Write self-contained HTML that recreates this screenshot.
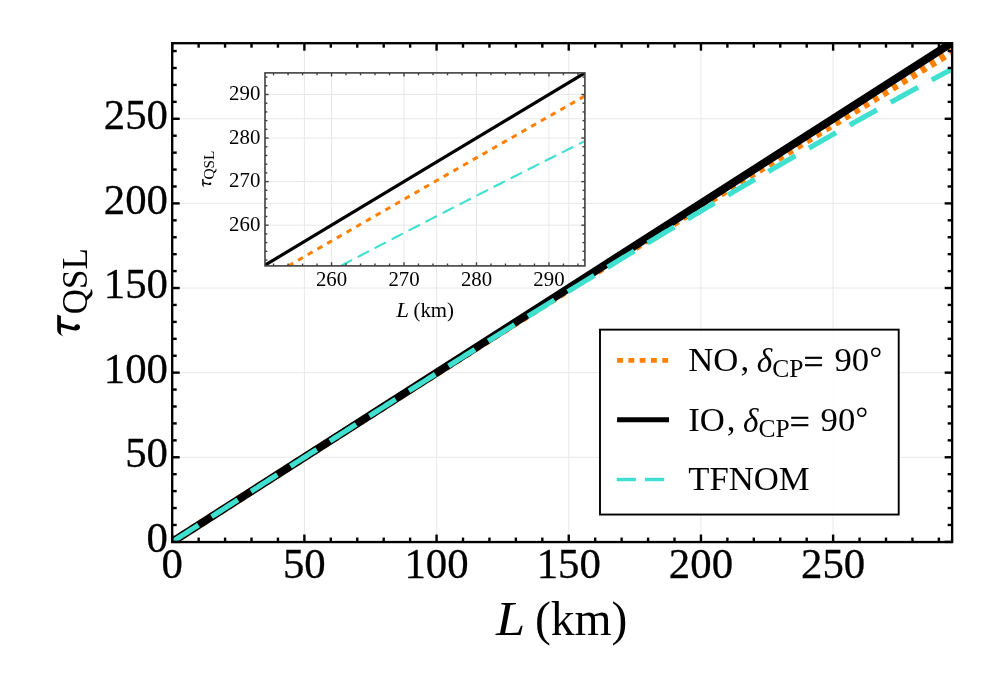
<!DOCTYPE html>
<html><head><meta charset="utf-8"><title>tau QSL</title>
<style>
html,body{margin:0;padding:0;background:#fff;}
body{width:997px;height:691px;overflow:hidden;font-family:"Liberation Serif",serif;}
svg{display:block;will-change:transform;}
</style></head><body>
<svg width="997" height="691" viewBox="0 0 997 691">
<rect width="997" height="691" fill="#ffffff"/>
<defs>
<clipPath id="cm"><rect x="172.20" y="43.20" width="779.95" height="498.85"/></clipPath>
<clipPath id="ci"><rect x="265.00" y="72.90" width="319.90" height="193.00"/></clipPath>
</defs>
<g stroke="#e8e8e8" stroke-width="1" fill="none">
<line x1="304.38" y1="542.05" x2="304.38" y2="43.20"/>
<line x1="172.20" y1="457.27" x2="952.15" y2="457.27"/>
<line x1="436.57" y1="542.05" x2="436.57" y2="43.20"/>
<line x1="172.20" y1="372.65" x2="952.15" y2="372.65"/>
<line x1="568.75" y1="542.05" x2="568.75" y2="43.20"/>
<line x1="172.20" y1="288.02" x2="952.15" y2="288.02"/>
<line x1="700.94" y1="542.05" x2="700.94" y2="43.20"/>
<line x1="172.20" y1="203.40" x2="952.15" y2="203.40"/>
<line x1="833.12" y1="542.05" x2="833.12" y2="43.20"/>
<line x1="172.20" y1="118.77" x2="952.15" y2="118.77"/>
</g>
<g clip-path="url(#cm)" fill="none" stroke-linecap="butt" stroke-linejoin="round">
<path d="M172.20 541.90 L175.45 539.82 L178.70 537.74 L181.95 535.66 L185.20 533.58 L188.45 531.50 L191.70 529.42 L194.95 527.34 L198.20 525.26 L201.45 523.18 L204.70 521.10 L207.95 519.02 L211.19 516.94 L214.44 514.86 L217.69 512.78 L220.94 510.70 L224.19 508.62 L227.44 506.54 L230.69 504.46 L233.94 502.38 L237.19 500.30 L240.44 498.22 L243.69 496.14 L246.94 494.06 L250.19 491.98 L253.44 489.90 L256.69 487.82 L259.94 485.74 L263.19 483.66 L266.44 481.59 L269.69 479.51 L272.94 477.43 L276.19 475.35 L279.44 473.27 L282.68 471.19 L285.93 469.12 L289.18 467.04 L292.43 464.96 L295.68 462.88 L298.93 460.80 L302.18 458.73 L305.43 456.65 L308.68 454.57 L311.93 452.50 L315.18 450.42 L318.43 448.34 L321.68 446.27 L324.93 444.19 L328.18 442.11 L331.43 440.04 L334.68 437.96 L337.93 435.89 L341.18 433.81 L344.43 431.74 L347.68 429.66 L350.93 427.59 L354.17 425.51 L357.42 423.44 L360.67 421.37 L363.92 419.29 L367.17 417.22 L370.42 415.15 L373.67 413.07 L376.92 411.00 L380.17 408.93 L383.42 406.85 L386.67 404.78 L389.92 402.71 L393.17 400.64 L396.42 398.57 L399.67 396.50 L402.92 394.43 L406.17 392.36 L409.42 390.29 L412.67 388.22 L415.92 386.15 L419.17 384.08 L422.42 382.01 L425.66 379.94 L428.91 377.87 L432.16 375.80 L435.41 373.74 L438.66 371.67 L441.91 369.60 L445.16 367.53 L448.41 365.47 L451.66 363.40 L454.91 361.34 L458.16 359.27 L461.41 357.20 L464.66 355.14 L467.91 353.08 L471.16 351.01 L474.41 348.95 L477.66 346.88 L480.91 344.82 L484.16 342.76 L487.41 340.70 L490.66 338.64 L493.91 336.57 L497.15 334.51 L500.40 332.45 L503.65 330.39 L506.90 328.33 L510.15 326.27 L513.40 324.21 L516.65 322.15 L519.90 320.10 L523.15 318.04 L526.40 315.98 L529.65 313.92 L532.90 311.87 L536.15 309.81 L539.40 307.76 L542.65 305.70 L545.90 303.64 L549.15 301.59 L552.40 299.54 L555.65 297.48 L558.90 295.43 L562.15 293.38 L565.40 291.33 L568.64 289.27 L571.89 287.22 L575.14 285.17 L578.39 283.12 L581.64 281.07 L584.89 279.02 L588.14 276.97 L591.39 274.93 L594.64 272.88 L597.89 270.83 L601.14 268.78 L604.39 266.74 L607.64 264.69 L610.89 262.65 L614.14 260.60 L617.39 258.56 L620.64 256.52 L623.89 254.47 L627.14 252.43 L630.39 250.39 L633.64 248.35 L636.89 246.31 L640.13 244.27 L643.38 242.23 L646.63 240.19 L649.88 238.15 L653.13 236.11 L656.38 234.07 L659.63 232.04 L662.88 230.00 L666.13 227.96 L669.38 225.93 L672.63 223.89 L675.88 221.86 L679.13 219.83 L682.38 217.79 L685.63 215.76 L688.88 213.73 L692.13 211.70 L695.38 209.67 L698.63 207.64 L701.88 205.61 L705.13 203.58 L708.38 201.55 L711.62 199.53 L714.87 197.50 L718.12 195.48 L721.37 193.45 L724.62 191.43 L727.87 189.40 L731.12 187.38 L734.37 185.36 L737.62 183.33 L740.87 181.31 L744.12 179.29 L747.37 177.27 L750.62 175.25 L753.87 173.24 L757.12 171.22 L760.37 169.20 L763.62 167.19 L766.87 165.17 L770.12 163.16 L773.37 161.14 L776.62 159.13 L779.87 157.12 L783.12 155.10 L786.36 153.09 L789.61 151.08 L792.86 149.07 L796.11 147.06 L799.36 145.05 L802.61 143.05 L805.86 141.04 L809.11 139.03 L812.36 137.03 L815.61 135.02 L818.86 133.02 L822.11 131.02 L825.36 129.02 L828.61 127.01 L831.86 125.01 L835.11 123.01 L838.36 121.02 L841.61 119.02 L844.86 117.02 L848.11 115.02 L851.36 113.03 L854.61 111.03 L857.85 109.04 L861.10 107.05 L864.35 105.05 L867.60 103.06 L870.85 101.07 L874.10 99.08 L877.35 97.09 L880.60 95.10 L883.85 93.12 L887.10 91.13 L890.35 89.14 L893.60 87.16 L896.85 85.17 L900.10 83.19 L903.35 81.21 L906.60 79.23 L909.85 77.25 L913.10 75.27 L916.35 73.29 L919.60 71.31 L922.85 69.33 L926.10 67.36 L929.34 65.38 L932.59 63.41 L935.84 61.44 L939.09 59.46 L942.34 57.49 L945.59 55.52 L948.84 53.55 L952.09 51.58" stroke="#ff8000" stroke-width="7.9" stroke-dasharray="5.6 5.6"/>
<path d="M172.20 541.90 L562.15 292.26 L952.09 42.61" stroke="#000" stroke-width="8"/>
<path d="M172.20 541.90 L175.45 539.82 L178.70 537.74 L181.95 535.66 L185.20 533.58 L188.45 531.50 L191.70 529.42 L194.95 527.34 L198.20 525.26 L201.45 523.18 L204.70 521.10 L207.95 519.02 L211.19 516.94 L214.44 514.86 L217.69 512.78 L220.94 510.70 L224.19 508.62 L227.44 506.54 L230.69 504.46 L233.94 502.38 L237.19 500.30 L240.44 498.22 L243.69 496.14 L246.94 494.07 L250.19 491.99 L253.44 489.91 L256.69 487.83 L259.94 485.75 L263.19 483.68 L266.44 481.60 L269.69 479.52 L272.94 477.45 L276.19 475.37 L279.44 473.29 L282.68 471.22 L285.93 469.14 L289.18 467.07 L292.43 464.99 L295.68 462.92 L298.93 460.84 L302.18 458.77 L305.43 456.70 L308.68 454.62 L311.93 452.55 L315.18 450.48 L318.43 448.41 L321.68 446.34 L324.93 444.27 L328.18 442.20 L331.43 440.13 L334.68 438.06 L337.93 435.99 L341.18 433.92 L344.43 431.85 L347.68 429.78 L350.93 427.72 L354.17 425.65 L357.42 423.59 L360.67 421.52 L363.92 419.46 L367.17 417.39 L370.42 415.33 L373.67 413.27 L376.92 411.20 L380.17 409.14 L383.42 407.08 L386.67 405.02 L389.92 402.96 L393.17 400.90 L396.42 398.85 L399.67 396.79 L402.92 394.73 L406.17 392.68 L409.42 390.62 L412.67 388.57 L415.92 386.51 L419.17 384.46 L422.42 382.41 L425.66 380.36 L428.91 378.31 L432.16 376.26 L435.41 374.21 L438.66 372.16 L441.91 370.12 L445.16 368.07 L448.41 366.03 L451.66 363.98 L454.91 361.94 L458.16 359.90 L461.41 357.86 L464.66 355.82 L467.91 353.78 L471.16 351.74 L474.41 349.70 L477.66 347.67 L480.91 345.63 L484.16 343.60 L487.41 341.56 L490.66 339.53 L493.91 337.50 L497.15 335.47 L500.40 333.44 L503.65 331.42 L506.90 329.39 L510.15 327.37 L513.40 325.34 L516.65 323.32 L519.90 321.30 L523.15 319.28 L526.40 317.26 L529.65 315.24 L532.90 313.23 L536.15 311.21 L539.40 309.20 L542.65 307.18 L545.90 305.17 L549.15 303.16 L552.40 301.16 L555.65 299.15 L558.90 297.14 L562.15 295.14 L565.40 293.14 L568.64 291.13 L571.89 289.13 L575.14 287.14 L578.39 285.14 L581.64 283.14 L584.89 281.15 L588.14 279.16 L591.39 277.17 L594.64 275.18 L597.89 273.19 L601.14 271.20 L604.39 269.22 L607.64 267.23 L610.89 265.25 L614.14 263.27 L617.39 261.29 L620.64 259.32 L623.89 257.34 L627.14 255.37 L630.39 253.40 L633.64 251.43 L636.89 249.46 L640.13 247.49 L643.38 245.53 L646.63 243.57 L649.88 241.60 L653.13 239.65 L656.38 237.69 L659.63 235.73 L662.88 233.78 L666.13 231.83 L669.38 229.88 L672.63 227.93 L675.88 225.98 L679.13 224.04 L682.38 222.09 L685.63 220.15 L688.88 218.22 L692.13 216.28 L695.38 214.34 L698.63 212.41 L701.88 210.48 L705.13 208.55 L708.38 206.63 L711.62 204.70 L714.87 202.78 L718.12 200.86 L721.37 198.94 L724.62 197.02 L727.87 195.11 L731.12 193.20 L734.37 191.29 L737.62 189.38 L740.87 187.48 L744.12 185.57 L747.37 183.67 L750.62 181.77 L753.87 179.88 L757.12 177.98 L760.37 176.09 L763.62 174.20 L766.87 172.32 L770.12 170.43 L773.37 168.55 L776.62 166.67 L779.87 164.79 L783.12 162.92 L786.36 161.04 L789.61 159.17 L792.86 157.31 L796.11 155.44 L799.36 153.58 L802.61 151.72 L805.86 149.86 L809.11 148.00 L812.36 146.15 L815.61 144.30 L818.86 142.45 L822.11 140.61 L825.36 138.76 L828.61 136.92 L831.86 135.09 L835.11 133.25 L838.36 131.42 L841.61 129.59 L844.86 127.76 L848.11 125.94 L851.36 124.12 L854.61 122.30 L857.85 120.48 L861.10 118.67 L864.35 116.86 L867.60 115.05 L870.85 113.25 L874.10 111.45 L877.35 109.65 L880.60 107.85 L883.85 106.06 L887.10 104.27 L890.35 102.48 L893.60 100.70 L896.85 98.92 L900.10 97.14 L903.35 95.36 L906.60 93.59 L909.85 91.82 L913.10 90.05 L916.35 88.29 L919.60 86.53 L922.85 84.77 L926.10 83.02 L929.34 81.27 L932.59 79.52 L935.84 77.78 L939.09 76.03 L942.34 74.30 L945.59 72.56 L948.84 70.83 L952.09 69.10" stroke="#40e0d0" stroke-width="5.2" stroke-dasharray="31.2 15.6"/>
</g>
<g stroke="#000" stroke-width="2.4" fill="none">
<line x1="172.20" y1="542.05" x2="172.20" y2="534.55"/>
<line x1="172.20" y1="43.20" x2="172.20" y2="50.70"/>
<line x1="172.20" y1="541.90" x2="179.70" y2="541.90"/>
<line x1="952.15" y1="541.90" x2="944.65" y2="541.90"/>
<line x1="198.64" y1="542.05" x2="198.64" y2="537.55"/>
<line x1="198.64" y1="43.20" x2="198.64" y2="47.70"/>
<line x1="172.20" y1="524.98" x2="176.70" y2="524.98"/>
<line x1="952.15" y1="524.98" x2="947.65" y2="524.98"/>
<line x1="225.07" y1="542.05" x2="225.07" y2="537.55"/>
<line x1="225.07" y1="43.20" x2="225.07" y2="47.70"/>
<line x1="172.20" y1="508.05" x2="176.70" y2="508.05"/>
<line x1="952.15" y1="508.05" x2="947.65" y2="508.05"/>
<line x1="251.51" y1="542.05" x2="251.51" y2="537.55"/>
<line x1="251.51" y1="43.20" x2="251.51" y2="47.70"/>
<line x1="172.20" y1="491.12" x2="176.70" y2="491.12"/>
<line x1="952.15" y1="491.12" x2="947.65" y2="491.12"/>
<line x1="277.95" y1="542.05" x2="277.95" y2="537.55"/>
<line x1="277.95" y1="43.20" x2="277.95" y2="47.70"/>
<line x1="172.20" y1="474.20" x2="176.70" y2="474.20"/>
<line x1="952.15" y1="474.20" x2="947.65" y2="474.20"/>
<line x1="304.38" y1="542.05" x2="304.38" y2="534.55"/>
<line x1="304.38" y1="43.20" x2="304.38" y2="50.70"/>
<line x1="172.20" y1="457.27" x2="179.70" y2="457.27"/>
<line x1="952.15" y1="457.27" x2="944.65" y2="457.27"/>
<line x1="330.82" y1="542.05" x2="330.82" y2="537.55"/>
<line x1="330.82" y1="43.20" x2="330.82" y2="47.70"/>
<line x1="172.20" y1="440.35" x2="176.70" y2="440.35"/>
<line x1="952.15" y1="440.35" x2="947.65" y2="440.35"/>
<line x1="357.26" y1="542.05" x2="357.26" y2="537.55"/>
<line x1="357.26" y1="43.20" x2="357.26" y2="47.70"/>
<line x1="172.20" y1="423.42" x2="176.70" y2="423.42"/>
<line x1="952.15" y1="423.42" x2="947.65" y2="423.42"/>
<line x1="383.70" y1="542.05" x2="383.70" y2="537.55"/>
<line x1="383.70" y1="43.20" x2="383.70" y2="47.70"/>
<line x1="172.20" y1="406.50" x2="176.70" y2="406.50"/>
<line x1="952.15" y1="406.50" x2="947.65" y2="406.50"/>
<line x1="410.13" y1="542.05" x2="410.13" y2="537.55"/>
<line x1="410.13" y1="43.20" x2="410.13" y2="47.70"/>
<line x1="172.20" y1="389.57" x2="176.70" y2="389.57"/>
<line x1="952.15" y1="389.57" x2="947.65" y2="389.57"/>
<line x1="436.57" y1="542.05" x2="436.57" y2="534.55"/>
<line x1="436.57" y1="43.20" x2="436.57" y2="50.70"/>
<line x1="172.20" y1="372.65" x2="179.70" y2="372.65"/>
<line x1="952.15" y1="372.65" x2="944.65" y2="372.65"/>
<line x1="463.01" y1="542.05" x2="463.01" y2="537.55"/>
<line x1="463.01" y1="43.20" x2="463.01" y2="47.70"/>
<line x1="172.20" y1="355.73" x2="176.70" y2="355.73"/>
<line x1="952.15" y1="355.73" x2="947.65" y2="355.73"/>
<line x1="489.44" y1="542.05" x2="489.44" y2="537.55"/>
<line x1="489.44" y1="43.20" x2="489.44" y2="47.70"/>
<line x1="172.20" y1="338.80" x2="176.70" y2="338.80"/>
<line x1="952.15" y1="338.80" x2="947.65" y2="338.80"/>
<line x1="515.88" y1="542.05" x2="515.88" y2="537.55"/>
<line x1="515.88" y1="43.20" x2="515.88" y2="47.70"/>
<line x1="172.20" y1="321.88" x2="176.70" y2="321.88"/>
<line x1="952.15" y1="321.88" x2="947.65" y2="321.88"/>
<line x1="542.32" y1="542.05" x2="542.32" y2="537.55"/>
<line x1="542.32" y1="43.20" x2="542.32" y2="47.70"/>
<line x1="172.20" y1="304.95" x2="176.70" y2="304.95"/>
<line x1="952.15" y1="304.95" x2="947.65" y2="304.95"/>
<line x1="568.75" y1="542.05" x2="568.75" y2="534.55"/>
<line x1="568.75" y1="43.20" x2="568.75" y2="50.70"/>
<line x1="172.20" y1="288.02" x2="179.70" y2="288.02"/>
<line x1="952.15" y1="288.02" x2="944.65" y2="288.02"/>
<line x1="595.19" y1="542.05" x2="595.19" y2="537.55"/>
<line x1="595.19" y1="43.20" x2="595.19" y2="47.70"/>
<line x1="172.20" y1="271.10" x2="176.70" y2="271.10"/>
<line x1="952.15" y1="271.10" x2="947.65" y2="271.10"/>
<line x1="621.63" y1="542.05" x2="621.63" y2="537.55"/>
<line x1="621.63" y1="43.20" x2="621.63" y2="47.70"/>
<line x1="172.20" y1="254.18" x2="176.70" y2="254.18"/>
<line x1="952.15" y1="254.18" x2="947.65" y2="254.18"/>
<line x1="648.07" y1="542.05" x2="648.07" y2="537.55"/>
<line x1="648.07" y1="43.20" x2="648.07" y2="47.70"/>
<line x1="172.20" y1="237.25" x2="176.70" y2="237.25"/>
<line x1="952.15" y1="237.25" x2="947.65" y2="237.25"/>
<line x1="674.50" y1="542.05" x2="674.50" y2="537.55"/>
<line x1="674.50" y1="43.20" x2="674.50" y2="47.70"/>
<line x1="172.20" y1="220.32" x2="176.70" y2="220.32"/>
<line x1="952.15" y1="220.32" x2="947.65" y2="220.32"/>
<line x1="700.94" y1="542.05" x2="700.94" y2="534.55"/>
<line x1="700.94" y1="43.20" x2="700.94" y2="50.70"/>
<line x1="172.20" y1="203.40" x2="179.70" y2="203.40"/>
<line x1="952.15" y1="203.40" x2="944.65" y2="203.40"/>
<line x1="727.38" y1="542.05" x2="727.38" y2="537.55"/>
<line x1="727.38" y1="43.20" x2="727.38" y2="47.70"/>
<line x1="172.20" y1="186.48" x2="176.70" y2="186.48"/>
<line x1="952.15" y1="186.48" x2="947.65" y2="186.48"/>
<line x1="753.81" y1="542.05" x2="753.81" y2="537.55"/>
<line x1="753.81" y1="43.20" x2="753.81" y2="47.70"/>
<line x1="172.20" y1="169.55" x2="176.70" y2="169.55"/>
<line x1="952.15" y1="169.55" x2="947.65" y2="169.55"/>
<line x1="780.25" y1="542.05" x2="780.25" y2="537.55"/>
<line x1="780.25" y1="43.20" x2="780.25" y2="47.70"/>
<line x1="172.20" y1="152.62" x2="176.70" y2="152.62"/>
<line x1="952.15" y1="152.62" x2="947.65" y2="152.62"/>
<line x1="806.69" y1="542.05" x2="806.69" y2="537.55"/>
<line x1="806.69" y1="43.20" x2="806.69" y2="47.70"/>
<line x1="172.20" y1="135.70" x2="176.70" y2="135.70"/>
<line x1="952.15" y1="135.70" x2="947.65" y2="135.70"/>
<line x1="833.12" y1="542.05" x2="833.12" y2="534.55"/>
<line x1="833.12" y1="43.20" x2="833.12" y2="50.70"/>
<line x1="172.20" y1="118.77" x2="179.70" y2="118.77"/>
<line x1="952.15" y1="118.77" x2="944.65" y2="118.77"/>
<line x1="859.56" y1="542.05" x2="859.56" y2="537.55"/>
<line x1="859.56" y1="43.20" x2="859.56" y2="47.70"/>
<line x1="172.20" y1="101.85" x2="176.70" y2="101.85"/>
<line x1="952.15" y1="101.85" x2="947.65" y2="101.85"/>
<line x1="886.00" y1="542.05" x2="886.00" y2="537.55"/>
<line x1="886.00" y1="43.20" x2="886.00" y2="47.70"/>
<line x1="172.20" y1="84.93" x2="176.70" y2="84.93"/>
<line x1="952.15" y1="84.93" x2="947.65" y2="84.93"/>
<line x1="912.44" y1="542.05" x2="912.44" y2="537.55"/>
<line x1="912.44" y1="43.20" x2="912.44" y2="47.70"/>
<line x1="172.20" y1="68.00" x2="176.70" y2="68.00"/>
<line x1="952.15" y1="68.00" x2="947.65" y2="68.00"/>
<line x1="938.87" y1="542.05" x2="938.87" y2="537.55"/>
<line x1="938.87" y1="43.20" x2="938.87" y2="47.70"/>
<line x1="172.20" y1="51.07" x2="176.70" y2="51.07"/>
<line x1="952.15" y1="51.07" x2="947.65" y2="51.07"/>
</g>
<rect x="172.20" y="43.20" width="779.95" height="498.85" fill="none" stroke="#000" stroke-width="2.35"/>
<g font-family="'Liberation Serif', serif" font-size="42.8" fill="#000" stroke="#000" stroke-width="0.3">
<text x="172.20" y="577.7" text-anchor="middle">0</text>
<text x="168" y="552.10" text-anchor="end">0</text>
<text x="304.38" y="577.7" text-anchor="middle">50</text>
<text x="168" y="467.47" text-anchor="end">50</text>
<text x="436.57" y="577.7" text-anchor="middle">100</text>
<text x="168" y="382.85" text-anchor="end">100</text>
<text x="568.75" y="577.7" text-anchor="middle">150</text>
<text x="168" y="298.22" text-anchor="end">150</text>
<text x="700.94" y="577.7" text-anchor="middle">200</text>
<text x="168" y="213.60" text-anchor="end">200</text>
<text x="833.12" y="577.7" text-anchor="middle">250</text>
<text x="168" y="128.97" text-anchor="end">250</text>
</g>
<text transform="translate(496.0,635.2) scale(1.1,1)" font-family="'Liberation Serif', serif" fill="#000" font-size="47.6" font-style="italic">L</text>
<text x="534.9" y="635.2" font-family="'Liberation Serif', serif" fill="#000" font-size="47.6">(km)</text>
<path transform="translate(79.80,337.00) rotate(-90) scale(1.0000)" d="M22.4 -22.6 L7 -22.6 Q2.6 -22.4 0.5 -15.9 Q2.6 -19.2 5.6 -18.9 L9.8 -18.9 L7.0 -7.8 Q6.0 -3.4 7.3 -1.3 A2.9 2.9 0 1 0 10.3 -5.5 L10.2 -6.8 L13.4 -18.9 L21 -18.9 Z" fill="#000"/>
<text transform="translate(87,314.2) rotate(-90)" x="0" y="0" font-family="'Liberation Serif', serif" font-size="35" fill="#000">QSL</text>
<g stroke="#e8e8e8" stroke-width="1" fill="none">
<line x1="331.54" y1="265.90" x2="331.54" y2="72.90"/>
<line x1="265.00" y1="225.18" x2="584.90" y2="225.18"/>
<line x1="404.01" y1="265.90" x2="404.01" y2="72.90"/>
<line x1="265.00" y1="181.62" x2="584.90" y2="181.62"/>
<line x1="476.48" y1="265.90" x2="476.48" y2="72.90"/>
<line x1="265.00" y1="138.06" x2="584.90" y2="138.06"/>
<line x1="548.95" y1="265.90" x2="548.95" y2="72.90"/>
<line x1="265.00" y1="94.50" x2="584.90" y2="94.50"/>
</g>
<g clip-path="url(#ci)" fill="none" stroke-linecap="butt">
<path d="M288.32 265.90 L289.56 265.19 L290.80 264.47 L292.03 263.76 L293.27 263.05 L294.51 262.33 L295.74 261.62 L296.98 260.90 L298.22 260.19 L299.45 259.48 L300.69 258.76 L301.93 258.05 L303.17 257.34 L304.40 256.62 L305.64 255.91 L306.88 255.20 L308.11 254.48 L309.35 253.77 L310.59 253.06 L311.82 252.35 L313.06 251.63 L314.30 250.92 L315.53 250.21 L316.77 249.49 L318.01 248.78 L319.25 248.07 L320.48 247.36 L321.72 246.64 L322.96 245.93 L324.19 245.22 L325.43 244.50 L326.67 243.79 L327.90 243.08 L329.14 242.37 L330.38 241.66 L331.61 240.94 L332.85 240.23 L334.09 239.52 L335.33 238.81 L336.56 238.09 L337.80 237.38 L339.04 236.67 L340.27 235.96 L341.51 235.25 L342.75 234.53 L343.98 233.82 L345.22 233.11 L346.46 232.40 L347.70 231.69 L348.93 230.97 L350.17 230.26 L351.41 229.55 L352.64 228.84 L353.88 228.13 L355.12 227.42 L356.35 226.70 L357.59 225.99 L358.83 225.28 L360.06 224.57 L361.30 223.86 L362.54 223.15 L363.78 222.44 L365.01 221.72 L366.25 221.01 L367.49 220.30 L368.72 219.59 L369.96 218.88 L371.20 218.17 L372.43 217.46 L373.67 216.75 L374.91 216.04 L376.14 215.32 L377.38 214.61 L378.62 213.90 L379.86 213.19 L381.09 212.48 L382.33 211.77 L383.57 211.06 L384.80 210.35 L386.04 209.64 L387.28 208.93 L388.51 208.22 L389.75 207.51 L390.99 206.80 L392.22 206.09 L393.46 205.38 L394.70 204.67 L395.94 203.96 L397.17 203.25 L398.41 202.54 L399.65 201.83 L400.88 201.12 L402.12 200.41 L403.36 199.70 L404.59 198.99 L405.83 198.28 L407.07 197.57 L408.30 196.86 L409.54 196.15 L410.78 195.44 L412.02 194.73 L413.25 194.02 L414.49 193.31 L415.73 192.60 L416.96 191.89 L418.20 191.18 L419.44 190.47 L420.67 189.76 L421.91 189.05 L423.15 188.34 L424.38 187.63 L425.62 186.92 L426.86 186.21 L428.10 185.51 L429.33 184.80 L430.57 184.09 L431.81 183.38 L433.04 182.67 L434.28 181.96 L435.52 181.25 L436.75 180.54 L437.99 179.83 L439.23 179.13 L440.46 178.42 L441.70 177.71 L442.94 177.00 L444.18 176.29 L445.41 175.58 L446.65 174.87 L447.89 174.17 L449.12 173.46 L450.36 172.75 L451.60 172.04 L452.83 171.33 L454.07 170.62 L455.31 169.92 L456.54 169.21 L457.78 168.50 L459.02 167.79 L460.26 167.08 L461.49 166.38 L462.73 165.67 L463.97 164.96 L465.20 164.25 L466.44 163.54 L467.68 162.84 L468.91 162.13 L470.15 161.42 L471.39 160.71 L472.62 160.01 L473.86 159.30 L475.10 158.59 L476.34 157.88 L477.57 157.18 L478.81 156.47 L480.05 155.76 L481.28 155.05 L482.52 154.35 L483.76 153.64 L484.99 152.93 L486.23 152.23 L487.47 151.52 L488.70 150.81 L489.94 150.11 L491.18 149.40 L492.42 148.69 L493.65 147.98 L494.89 147.28 L496.13 146.57 L497.36 145.86 L498.60 145.16 L499.84 144.45 L501.07 143.74 L502.31 143.04 L503.55 142.33 L504.78 141.63 L506.02 140.92 L507.26 140.21 L508.50 139.51 L509.73 138.80 L510.97 138.09 L512.21 137.39 L513.44 136.68 L514.68 135.98 L515.92 135.27 L517.15 134.56 L518.39 133.86 L519.63 133.15 L520.86 132.45 L522.10 131.74 L523.34 131.03 L524.58 130.33 L525.81 129.62 L527.05 128.92 L528.29 128.21 L529.52 127.51 L530.76 126.80 L532.00 126.10 L533.23 125.39 L534.47 124.69 L535.71 123.98 L536.94 123.27 L538.18 122.57 L539.42 121.86 L540.66 121.16 L541.89 120.45 L543.13 119.75 L544.37 119.04 L545.60 118.34 L546.84 117.63 L548.08 116.93 L549.31 116.23 L550.55 115.52 L551.79 114.82 L553.02 114.11 L554.26 113.41 L555.50 112.70 L556.74 112.00 L557.97 111.29 L559.21 110.59 L560.45 109.88 L561.68 109.18 L562.92 108.48 L564.16 107.77 L565.39 107.07 L566.63 106.36 L567.87 105.66 L569.10 104.96 L570.34 104.25 L571.58 103.55 L572.82 102.84 L574.05 102.14 L575.29 101.44 L576.53 100.73 L577.76 100.03 L579.00 99.32 L580.24 98.62 L581.47 97.92 L582.71 97.21 L583.95 96.51 L585.18 95.81" stroke="#ff8000" stroke-width="3" stroke-dasharray="5.6 5.6"/>
<path d="M265.00 265.18 L425.09 168.95 L585.18 72.72" stroke="#000" stroke-width="3.2"/>
<path d="M340.69 265.90 L341.71 265.37 L342.73 264.83 L343.74 264.30 L344.76 263.77 L345.78 263.24 L346.80 262.71 L347.82 262.17 L348.84 261.64 L349.86 261.11 L350.88 260.58 L351.89 260.05 L352.91 259.51 L353.93 258.98 L354.95 258.45 L355.97 257.92 L356.99 257.39 L358.01 256.86 L359.03 256.33 L360.04 255.79 L361.06 255.26 L362.08 254.73 L363.10 254.20 L364.12 253.67 L365.14 253.14 L366.16 252.61 L367.18 252.08 L368.19 251.55 L369.21 251.02 L370.23 250.49 L371.25 249.96 L372.27 249.43 L373.29 248.90 L374.31 248.37 L375.33 247.84 L376.34 247.31 L377.36 246.78 L378.38 246.25 L379.40 245.72 L380.42 245.19 L381.44 244.67 L382.46 244.14 L383.48 243.61 L384.49 243.08 L385.51 242.55 L386.53 242.02 L387.55 241.49 L388.57 240.97 L389.59 240.44 L390.61 239.91 L391.62 239.38 L392.64 238.85 L393.66 238.33 L394.68 237.80 L395.70 237.27 L396.72 236.74 L397.74 236.21 L398.76 235.69 L399.77 235.16 L400.79 234.63 L401.81 234.11 L402.83 233.58 L403.85 233.05 L404.87 232.53 L405.89 232.00 L406.91 231.47 L407.92 230.95 L408.94 230.42 L409.96 229.89 L410.98 229.37 L412.00 228.84 L413.02 228.32 L414.04 227.79 L415.06 227.26 L416.07 226.74 L417.09 226.21 L418.11 225.69 L419.13 225.16 L420.15 224.64 L421.17 224.11 L422.19 223.59 L423.21 223.06 L424.22 222.54 L425.24 222.01 L426.26 221.49 L427.28 220.96 L428.30 220.44 L429.32 219.91 L430.34 219.39 L431.36 218.86 L432.37 218.34 L433.39 217.82 L434.41 217.29 L435.43 216.77 L436.45 216.25 L437.47 215.72 L438.49 215.20 L439.51 214.67 L440.52 214.15 L441.54 213.63 L442.56 213.11 L443.58 212.58 L444.60 212.06 L445.62 211.54 L446.64 211.01 L447.66 210.49 L448.67 209.97 L449.69 209.45 L450.71 208.92 L451.73 208.40 L452.75 207.88 L453.77 207.36 L454.79 206.84 L455.81 206.31 L456.82 205.79 L457.84 205.27 L458.86 204.75 L459.88 204.23 L460.90 203.71 L461.92 203.19 L462.94 202.66 L463.96 202.14 L464.97 201.62 L465.99 201.10 L467.01 200.58 L468.03 200.06 L469.05 199.54 L470.07 199.02 L471.09 198.50 L472.11 197.98 L473.12 197.46 L474.14 196.94 L475.16 196.42 L476.18 195.90 L477.20 195.38 L478.22 194.86 L479.24 194.34 L480.26 193.82 L481.27 193.30 L482.29 192.78 L483.31 192.26 L484.33 191.75 L485.35 191.23 L486.37 190.71 L487.39 190.19 L488.40 189.67 L489.42 189.15 L490.44 188.63 L491.46 188.12 L492.48 187.60 L493.50 187.08 L494.52 186.56 L495.54 186.04 L496.55 185.53 L497.57 185.01 L498.59 184.49 L499.61 183.97 L500.63 183.46 L501.65 182.94 L502.67 182.42 L503.69 181.91 L504.70 181.39 L505.72 180.87 L506.74 180.36 L507.76 179.84 L508.78 179.32 L509.80 178.81 L510.82 178.29 L511.84 177.77 L512.85 177.26 L513.87 176.74 L514.89 176.23 L515.91 175.71 L516.93 175.19 L517.95 174.68 L518.97 174.16 L519.99 173.65 L521.00 173.13 L522.02 172.62 L523.04 172.10 L524.06 171.59 L525.08 171.07 L526.10 170.56 L527.12 170.04 L528.14 169.53 L529.15 169.02 L530.17 168.50 L531.19 167.99 L532.21 167.47 L533.23 166.96 L534.25 166.45 L535.27 165.93 L536.29 165.42 L537.30 164.90 L538.32 164.39 L539.34 163.88 L540.36 163.37 L541.38 162.85 L542.40 162.34 L543.42 161.83 L544.44 161.31 L545.45 160.80 L546.47 160.29 L547.49 159.78 L548.51 159.26 L549.53 158.75 L550.55 158.24 L551.57 157.73 L552.59 157.22 L553.60 156.70 L554.62 156.19 L555.64 155.68 L556.66 155.17 L557.68 154.66 L558.70 154.15 L559.72 153.63 L560.74 153.12 L561.75 152.61 L562.77 152.10 L563.79 151.59 L564.81 151.08 L565.83 150.57 L566.85 150.06 L567.87 149.55 L568.89 149.04 L569.90 148.53 L570.92 148.02 L571.94 147.51 L572.96 147.00 L573.98 146.49 L575.00 145.98 L576.02 145.47 L577.04 144.96 L578.05 144.45 L579.07 143.94 L580.09 143.43 L581.11 142.93 L582.13 142.42 L583.15 141.91 L584.17 141.40 L585.18 140.89" stroke="#40e0d0" stroke-width="2.1" stroke-dasharray="12.75 6.37"/>
</g>
<g stroke="#404040" stroke-width="1.4" fill="none">
<line x1="273.56" y1="265.90" x2="273.56" y2="263.50"/>
<line x1="273.56" y1="72.90" x2="273.56" y2="75.30"/>
<line x1="265.00" y1="260.03" x2="267.40" y2="260.03"/>
<line x1="584.90" y1="260.03" x2="582.50" y2="260.03"/>
<line x1="288.06" y1="265.90" x2="288.06" y2="263.50"/>
<line x1="288.06" y1="72.90" x2="288.06" y2="75.30"/>
<line x1="265.00" y1="251.32" x2="267.40" y2="251.32"/>
<line x1="584.90" y1="251.32" x2="582.50" y2="251.32"/>
<line x1="302.55" y1="265.90" x2="302.55" y2="263.50"/>
<line x1="302.55" y1="72.90" x2="302.55" y2="75.30"/>
<line x1="265.00" y1="242.60" x2="267.40" y2="242.60"/>
<line x1="584.90" y1="242.60" x2="582.50" y2="242.60"/>
<line x1="317.05" y1="265.90" x2="317.05" y2="263.50"/>
<line x1="317.05" y1="72.90" x2="317.05" y2="75.30"/>
<line x1="265.00" y1="233.89" x2="267.40" y2="233.89"/>
<line x1="584.90" y1="233.89" x2="582.50" y2="233.89"/>
<line x1="331.54" y1="265.90" x2="331.54" y2="262.30"/>
<line x1="331.54" y1="72.90" x2="331.54" y2="76.50"/>
<line x1="265.00" y1="225.18" x2="268.60" y2="225.18"/>
<line x1="584.90" y1="225.18" x2="581.30" y2="225.18"/>
<line x1="346.03" y1="265.90" x2="346.03" y2="263.50"/>
<line x1="346.03" y1="72.90" x2="346.03" y2="75.30"/>
<line x1="265.00" y1="216.47" x2="267.40" y2="216.47"/>
<line x1="584.90" y1="216.47" x2="582.50" y2="216.47"/>
<line x1="360.53" y1="265.90" x2="360.53" y2="263.50"/>
<line x1="360.53" y1="72.90" x2="360.53" y2="75.30"/>
<line x1="265.00" y1="207.76" x2="267.40" y2="207.76"/>
<line x1="584.90" y1="207.76" x2="582.50" y2="207.76"/>
<line x1="375.02" y1="265.90" x2="375.02" y2="263.50"/>
<line x1="375.02" y1="72.90" x2="375.02" y2="75.30"/>
<line x1="265.00" y1="199.04" x2="267.40" y2="199.04"/>
<line x1="584.90" y1="199.04" x2="582.50" y2="199.04"/>
<line x1="389.52" y1="265.90" x2="389.52" y2="263.50"/>
<line x1="389.52" y1="72.90" x2="389.52" y2="75.30"/>
<line x1="265.00" y1="190.33" x2="267.40" y2="190.33"/>
<line x1="584.90" y1="190.33" x2="582.50" y2="190.33"/>
<line x1="404.01" y1="265.90" x2="404.01" y2="262.30"/>
<line x1="404.01" y1="72.90" x2="404.01" y2="76.50"/>
<line x1="265.00" y1="181.62" x2="268.60" y2="181.62"/>
<line x1="584.90" y1="181.62" x2="581.30" y2="181.62"/>
<line x1="418.50" y1="265.90" x2="418.50" y2="263.50"/>
<line x1="418.50" y1="72.90" x2="418.50" y2="75.30"/>
<line x1="265.00" y1="172.91" x2="267.40" y2="172.91"/>
<line x1="584.90" y1="172.91" x2="582.50" y2="172.91"/>
<line x1="433.00" y1="265.90" x2="433.00" y2="263.50"/>
<line x1="433.00" y1="72.90" x2="433.00" y2="75.30"/>
<line x1="265.00" y1="164.20" x2="267.40" y2="164.20"/>
<line x1="584.90" y1="164.20" x2="582.50" y2="164.20"/>
<line x1="447.49" y1="265.90" x2="447.49" y2="263.50"/>
<line x1="447.49" y1="72.90" x2="447.49" y2="75.30"/>
<line x1="265.00" y1="155.48" x2="267.40" y2="155.48"/>
<line x1="584.90" y1="155.48" x2="582.50" y2="155.48"/>
<line x1="461.99" y1="265.90" x2="461.99" y2="263.50"/>
<line x1="461.99" y1="72.90" x2="461.99" y2="75.30"/>
<line x1="265.00" y1="146.77" x2="267.40" y2="146.77"/>
<line x1="584.90" y1="146.77" x2="582.50" y2="146.77"/>
<line x1="476.48" y1="265.90" x2="476.48" y2="262.30"/>
<line x1="476.48" y1="72.90" x2="476.48" y2="76.50"/>
<line x1="265.00" y1="138.06" x2="268.60" y2="138.06"/>
<line x1="584.90" y1="138.06" x2="581.30" y2="138.06"/>
<line x1="490.97" y1="265.90" x2="490.97" y2="263.50"/>
<line x1="490.97" y1="72.90" x2="490.97" y2="75.30"/>
<line x1="265.00" y1="129.35" x2="267.40" y2="129.35"/>
<line x1="584.90" y1="129.35" x2="582.50" y2="129.35"/>
<line x1="505.47" y1="265.90" x2="505.47" y2="263.50"/>
<line x1="505.47" y1="72.90" x2="505.47" y2="75.30"/>
<line x1="265.00" y1="120.64" x2="267.40" y2="120.64"/>
<line x1="584.90" y1="120.64" x2="582.50" y2="120.64"/>
<line x1="519.96" y1="265.90" x2="519.96" y2="263.50"/>
<line x1="519.96" y1="72.90" x2="519.96" y2="75.30"/>
<line x1="265.00" y1="111.92" x2="267.40" y2="111.92"/>
<line x1="584.90" y1="111.92" x2="582.50" y2="111.92"/>
<line x1="534.46" y1="265.90" x2="534.46" y2="263.50"/>
<line x1="534.46" y1="72.90" x2="534.46" y2="75.30"/>
<line x1="265.00" y1="103.21" x2="267.40" y2="103.21"/>
<line x1="584.90" y1="103.21" x2="582.50" y2="103.21"/>
<line x1="548.95" y1="265.90" x2="548.95" y2="262.30"/>
<line x1="548.95" y1="72.90" x2="548.95" y2="76.50"/>
<line x1="265.00" y1="94.50" x2="268.60" y2="94.50"/>
<line x1="584.90" y1="94.50" x2="581.30" y2="94.50"/>
<line x1="563.44" y1="265.90" x2="563.44" y2="263.50"/>
<line x1="563.44" y1="72.90" x2="563.44" y2="75.30"/>
<line x1="265.00" y1="85.79" x2="267.40" y2="85.79"/>
<line x1="584.90" y1="85.79" x2="582.50" y2="85.79"/>
<line x1="577.94" y1="265.90" x2="577.94" y2="263.50"/>
<line x1="577.94" y1="72.90" x2="577.94" y2="75.30"/>
<line x1="265.00" y1="77.08" x2="267.40" y2="77.08"/>
<line x1="584.90" y1="77.08" x2="582.50" y2="77.08"/>
</g>
<rect x="265.00" y="72.90" width="319.90" height="193.00" fill="none" stroke="#404040" stroke-width="1.6"/>
<g font-family="'Liberation Serif', serif" font-size="20.8" fill="#000">
<text x="331.54" y="286" text-anchor="middle">260</text>
<text x="260.3" y="230.68" text-anchor="end">260</text>
<text x="404.01" y="286" text-anchor="middle">270</text>
<text x="260.3" y="187.12" text-anchor="end">270</text>
<text x="476.48" y="286" text-anchor="middle">280</text>
<text x="260.3" y="143.56" text-anchor="end">280</text>
<text x="548.95" y="286" text-anchor="middle">290</text>
<text x="260.3" y="100.00" text-anchor="end">290</text>
</g>
<text transform="translate(396.3,316.7) scale(1.1,1)" font-family="'Liberation Serif', serif" fill="#000" font-size="20.8" font-style="italic">L</text>
<text x="413.5" y="316.7" font-family="'Liberation Serif', serif" fill="#000" font-size="20.8">(km)</text>
<path transform="translate(211.30,187.70) rotate(-90) scale(0.4050)" d="M22.4 -22.6 L7 -22.6 Q2.6 -22.4 0.5 -15.9 Q2.6 -19.2 5.6 -18.9 L9.8 -18.9 L7.0 -7.8 Q6.0 -3.4 7.3 -1.3 A2.9 2.9 0 1 0 10.3 -5.5 L10.2 -6.8 L13.4 -18.9 L21 -18.9 Z" fill="#000"/>
<text transform="translate(214.3,179.6) rotate(-90)" x="0" y="0" font-family="'Liberation Serif', serif" font-size="15.4" fill="#000">QSL</text>
<rect x="600" y="329.65" width="298.7" height="184.9" fill="#ffffff" fill-opacity="0.9" stroke="#000" stroke-width="1.9"/>
<line x1="617.1" y1="360.3" x2="668.4" y2="360.3" stroke="#ff8000" stroke-width="4.8" stroke-dasharray="5.8 5.5"/>
<line x1="617.1" y1="419.7" x2="669" y2="419.7" stroke="#000" stroke-width="5"/>
<line x1="616.7" y1="479.5" x2="664.3" y2="479.5" stroke="#40e0d0" stroke-width="3.6" stroke-dasharray="19.2 9.1"/>
<text x="688.2" y="370.6" font-family="'Liberation Serif', serif" fill="#000" font-size="34.7">NO</text>
<text x="740.6" y="370.6" font-family="'Liberation Serif', serif" fill="#000" font-size="34.7">,</text>
<text x="756.8" y="372.0" font-family="'Liberation Serif', serif" fill="#000" font-size="33.2" font-style="italic">δ</text>
<text x="772.2" y="377.0" font-family="'Liberation Serif', serif" fill="#000" font-size="25.5">CP</text>
<text x="803.6" y="374.3" font-family="'Liberation Serif', serif" fill="#000" font-size="35.5" stroke="#000" stroke-width="0.5">=</text>
<text x="834.4" y="370.6" font-family="'Liberation Serif', serif" fill="#000" font-size="34.7">90</text>
<text x="869.4" y="368.6" font-family="'Liberation Serif', serif" fill="#000" font-size="31.5">°</text>
<text x="688.2" y="430.6" font-family="'Liberation Serif', serif" fill="#000" font-size="34.7">IO</text>
<text x="726.8" y="430.6" font-family="'Liberation Serif', serif" fill="#000" font-size="34.7">,</text>
<text x="743.0" y="432.0" font-family="'Liberation Serif', serif" fill="#000" font-size="33.2" font-style="italic">δ</text>
<text x="758.4" y="437.0" font-family="'Liberation Serif', serif" fill="#000" font-size="25.5">CP</text>
<text x="789.8" y="434.3" font-family="'Liberation Serif', serif" fill="#000" font-size="35.5" stroke="#000" stroke-width="0.5">=</text>
<text x="820.6" y="430.6" font-family="'Liberation Serif', serif" fill="#000" font-size="34.7">90</text>
<text x="855.6" y="428.6" font-family="'Liberation Serif', serif" fill="#000" font-size="31.5">°</text>
<text x="688.2" y="490.2" font-family="'Liberation Serif', serif" fill="#000" font-size="34.7">TFNOM</text>
</svg>
</body></html>
